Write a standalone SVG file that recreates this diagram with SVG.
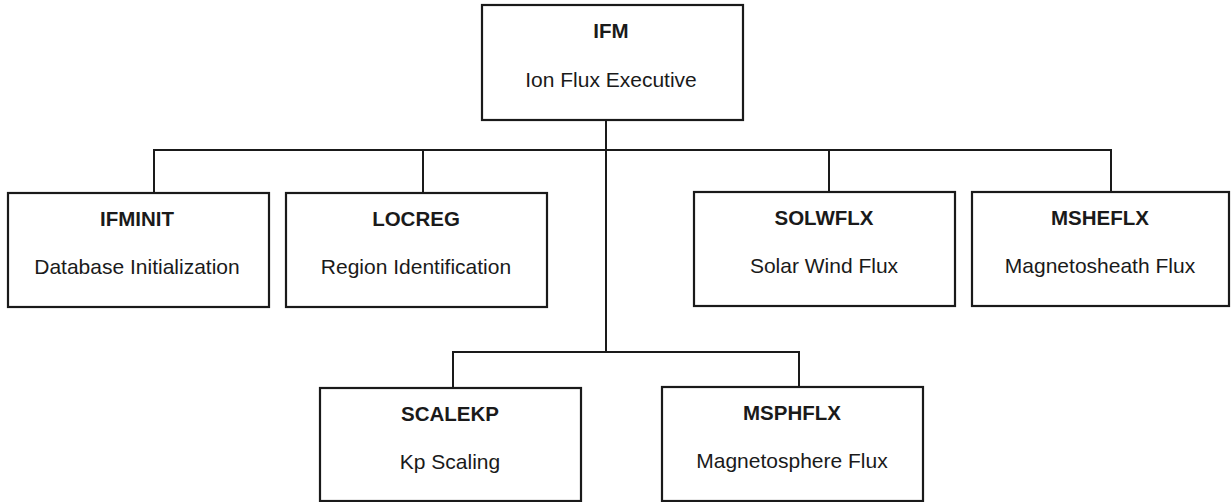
<svg xmlns="http://www.w3.org/2000/svg" width="1231" height="502" viewBox="0 0 1231 502">
<style>
.box{fill:#fff;stroke:#1a1a1a;stroke-width:2.2}
.t{font-family:"Liberation Sans",Arial,sans-serif;font-size:20.5px;font-weight:bold;fill:#1a1a1a;text-anchor:middle}
.s{font-family:"Liberation Sans",Arial,sans-serif;font-size:21px;fill:#1a1a1a;text-anchor:middle}
.c{fill:none;stroke:#1a1a1a;stroke-width:2}
</style>
<rect width="1231" height="502" fill="#fff"/>
<g id="connectors">
<path class="c" d="M606 120 V353"/>
<path class="c" d="M154 193 V150 H1111 V192"/>
<path class="c" d="M423 150 V193"/>
<path class="c" d="M829 150 V192"/>
<path class="c" d="M453 388 V352 H799 V387"/>
</g>
<g id="IFM">
<rect class="box" x="482" y="5" width="261" height="115"/>
<text class="t" x="611" y="38">IFM</text>
<text class="s" x="611" y="87">Ion Flux Executive</text>
</g>
<g id="IFMINIT">
<rect class="box" x="8" y="193" width="261" height="114"/>
<text class="t" x="137" y="226">IFMINIT</text>
<text class="s" x="137" y="274">Database Initialization</text>
</g>
<g id="LOCREG">
<rect class="box" x="286" y="193" width="261" height="114"/>
<text class="t" x="416" y="226">LOCREG</text>
<text class="s" x="416" y="274">Region Identification</text>
</g>
<g id="SOLWFLX">
<rect class="box" x="694" y="192" width="261" height="114"/>
<text class="t" x="824" y="225">SOLWFLX</text>
<text class="s" x="824" y="273">Solar Wind Flux</text>
</g>
<g id="MSHEFLX">
<rect class="box" x="972" y="192" width="257" height="114"/>
<text class="t" x="1100" y="225">MSHEFLX</text>
<text class="s" x="1100" y="273">Magnetosheath Flux</text>
</g>
<g id="SCALEKP">
<rect class="box" x="320" y="388" width="261" height="113"/>
<text class="t" x="450" y="421">SCALEKP</text>
<text class="s" x="450" y="469">Kp Scaling</text>
</g>
<g id="MSPHFLX">
<rect class="box" x="662" y="387" width="261" height="114"/>
<text class="t" x="792" y="420">MSPHFLX</text>
<text class="s" x="792" y="468">Magnetosphere Flux</text>
</g>
</svg>
